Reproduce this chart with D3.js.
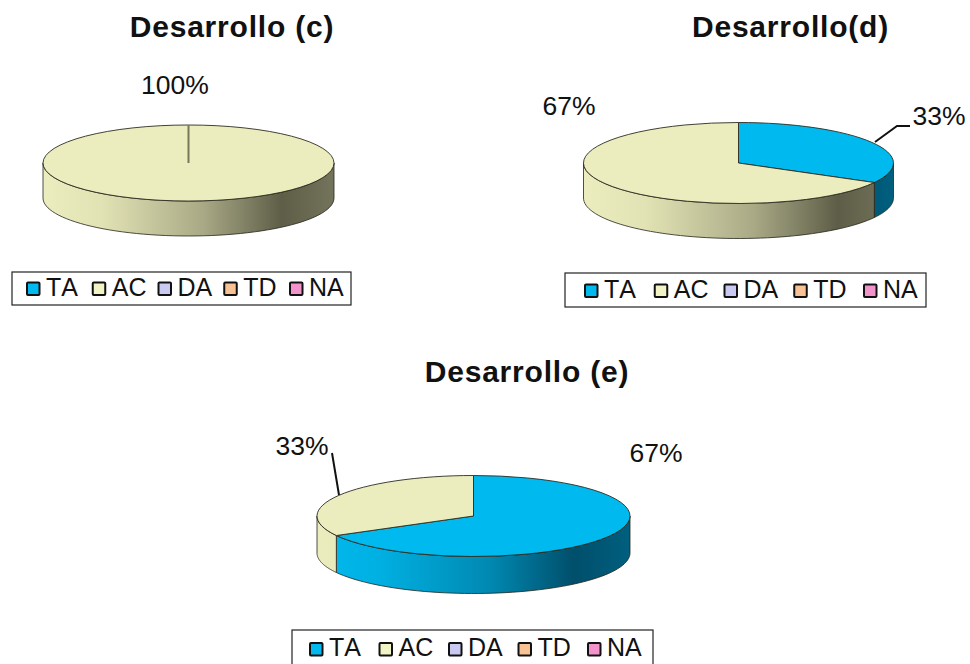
<!DOCTYPE html>
<html>
<head>
<meta charset="utf-8">
<script src="https://cdnjs.cloudflare.com/ajax/libs/d3/7.8.5/d3.min.js"></script>
<style>
  html, body { margin: 0; padding: 0; background: #fff; overflow: hidden; }
  svg { display: block; }
  text { font-family: "Liberation Sans", Arial, sans-serif; fill: #111; font-kerning: none; }
</style>
</head>
<body>
<svg id="chart" width="970" height="664"></svg>
<script>
// Response categories shared by the three pies
const categories = ["TA", "AC", "DA", "TD", "NA"];
const titles = ["Desarrollo (c)", "Desarrollo(d)", "Desarrollo (e)"];

// Percentage per category for each development block
const valuesC = [0, 100, 0, 0, 0];
const valuesD = [33, 67, 0, 0, 0];
const valuesE = [67, 33, 0, 0, 0];

const topColors = ["#00b9ee", "#ecedbe", "#c9c9f2", "#f8c294", "#f293cb"];
const swatchColors = ["#00b9ee", "#f3f4c6", "#c9c9f2", "#f8c294", "#f293cb"];
// Side-wall shading, from the lit left edge to the shadowed right edge
const wallStops = [
  ["#00b9ee", "#00b0e2", "#0089b2", "#004f6b", "#005f7f"],
  ["#ecedbe", "#e2e3b4", "#a9a986", "#5e5e48", "#74745c"]
];
const wallOffsets = [0, 0.2, 0.55, 0.82, 1];

const layouts = [
  { cx: 188.5, cy: 163, rx: 145.5, ry: 38, depth: 35,
    titleX: 232, titleY: 36.5,
    legend: { x: 12, y: 272, w: 339, h: 33, first: 27, last: 290, row: 295 },
    labels: [{ cat: 1, x: 175, y: 93.5 }] },
  { cx: 738.5, cy: 163, rx: 155, ry: 40.5, depth: 35,
    titleX: 790.5, titleY: 37,
    legend: { x: 565, y: 273, w: 361, h: 34, first: 585, last: 864, row: 297 },
    labels: [{ cat: 1, x: 569, y: 115 }, { cat: 0, x: 939, y: 125, leader: [[875, 142], [897, 126], [910, 126]] }] },
  { cx: 473.5, cy: 516, rx: 156.5, ry: 40.5, depth: 37,
    titleX: 527, titleY: 382,
    // This legend frame runs off the bottom edge of the page
    legend: { x: 292, y: 630, w: 361, h: 44, first: 310, last: 588, row: 655.5 },
    labels: [{ cat: 1, x: 302, y: 455, leader: [[332, 453], [339, 495]] }, { cat: 0, x: 656, y: 462 }] }
];

const svg = d3.select("#chart");
const defs = svg.append("defs");
const pie = d3.pie().sort(null);
const arc = d3.arc().innerRadius(0).outerRadius(1);

function drawPie(values, title, layout, index) {
  const { cx, cy, rx, ry, depth } = layout;
  const g = svg.append("g");
  const slices = pie(values).filter(d => d.value > 0);

  g.append("text")
    .attr("x", layout.titleX).attr("y", layout.titleY)
    .attr("text-anchor", "middle")
    .attr("font-size", 30).attr("font-weight", "bold")
    .attr("letter-spacing", 0.8)
    .text(title);

  // Horizontal shading for each coloured wall
  [0, 1].forEach(c => {
    const grad = defs.append("linearGradient")
      .attr("id", `wall-${index}-${c}`)
      .attr("gradientUnits", "userSpaceOnUse")
      .attr("x1", cx - rx).attr("x2", cx + rx).attr("y1", 0).attr("y2", 0);
    wallStops[c].forEach((col, i) => {
      grad.append("stop").attr("offset", wallOffsets[i]).attr("stop-color", col);
    });
  });

  const rimX = a => cx + rx * Math.sin(a);
  const rimY = a => cy - ry * Math.cos(a);

  // Only the front half of the rim (90° to 270° clockwise from the top) is visible
  const wallLine = d3.line();
  slices.forEach(d => {
    const a0 = Math.max(d.startAngle, Math.PI / 2);
    const a1 = Math.min(d.endAngle, Math.PI * 1.5);
    if (a1 <= a0) return;
    const steps = d3.range(0, 61).map(i => a0 + (a1 - a0) * i / 60);
    const top = steps.map(a => [rimX(a), rimY(a)]);
    const bottom = steps.slice().reverse().map(a => [rimX(a), rimY(a) + depth]);
    g.append("path")
      .attr("d", wallLine(top.concat(bottom)) + "Z")
      .attr("fill", `url(#wall-${index}-${d.index})`)
      .attr("stroke", "#23231a").attr("stroke-width", 0.8);
  });

  // Flattened top face: unit-radius arcs squashed into an ellipse
  const face = g.append("g").attr("transform", `translate(${cx},${cy}) scale(${rx},${ry})`);
  face.selectAll("path").data(slices).join("path")
    .attr("d", arc)
    .attr("fill", d => topColors[d.index])
    .attr("stroke", "#2c2c20")
    .attr("stroke-width", 0.9)
    .attr("vector-effect", "non-scaling-stroke");

  // A full-circle slice still shows its seam at twelve o'clock
  if (slices.length === 1) {
    g.append("line")
      .attr("x1", rimX(0)).attr("y1", rimY(0))
      .attr("x2", cx).attr("y2", cy)
      .attr("stroke", "#77775a").attr("stroke-width", 2);
  }

  // Percentage labels with optional leader lines
  layout.labels.forEach(l => {
    if (l.leader) {
      g.append("path")
        .attr("d", d3.line()(l.leader))
        .attr("fill", "none").attr("stroke", "#111").attr("stroke-width", 2);
    }
    g.append("text")
      .attr("x", l.x).attr("y", l.y)
      .attr("text-anchor", "middle")
      .attr("font-size", 26.5)
      .text(`${values[l.cat]}%`);
  });

  // Legend
  const lg = layout.legend;
  g.append("rect")
    .attr("x", lg.x).attr("y", lg.y).attr("width", lg.w).attr("height", lg.h)
    .attr("fill", "#fff").attr("stroke", "#222").attr("stroke-width", 1.2);

  const xPos = d3.scalePoint().domain(categories).range([lg.first, lg.last]);
  const item = g.selectAll("g.item").data(categories).join("g").attr("class", "item");
  item.append("rect")
    .attr("x", d => xPos(d)).attr("y", lg.row - 12.5)
    .attr("width", 12.5).attr("height", 12.5)
    .attr("rx", 1)
    .attr("fill", (d, i) => swatchColors[i])
    .attr("stroke", "#111").attr("stroke-width", 2);
  item.append("text")
    .attr("x", d => xPos(d) + 19).attr("y", lg.row + 0.5)
    .attr("font-size", 25)
    .text(d => d);
}

[valuesC, valuesD, valuesE].forEach((values, i) => drawPie(values, titles[i], layouts[i], i));
</script>
</body>
</html>
